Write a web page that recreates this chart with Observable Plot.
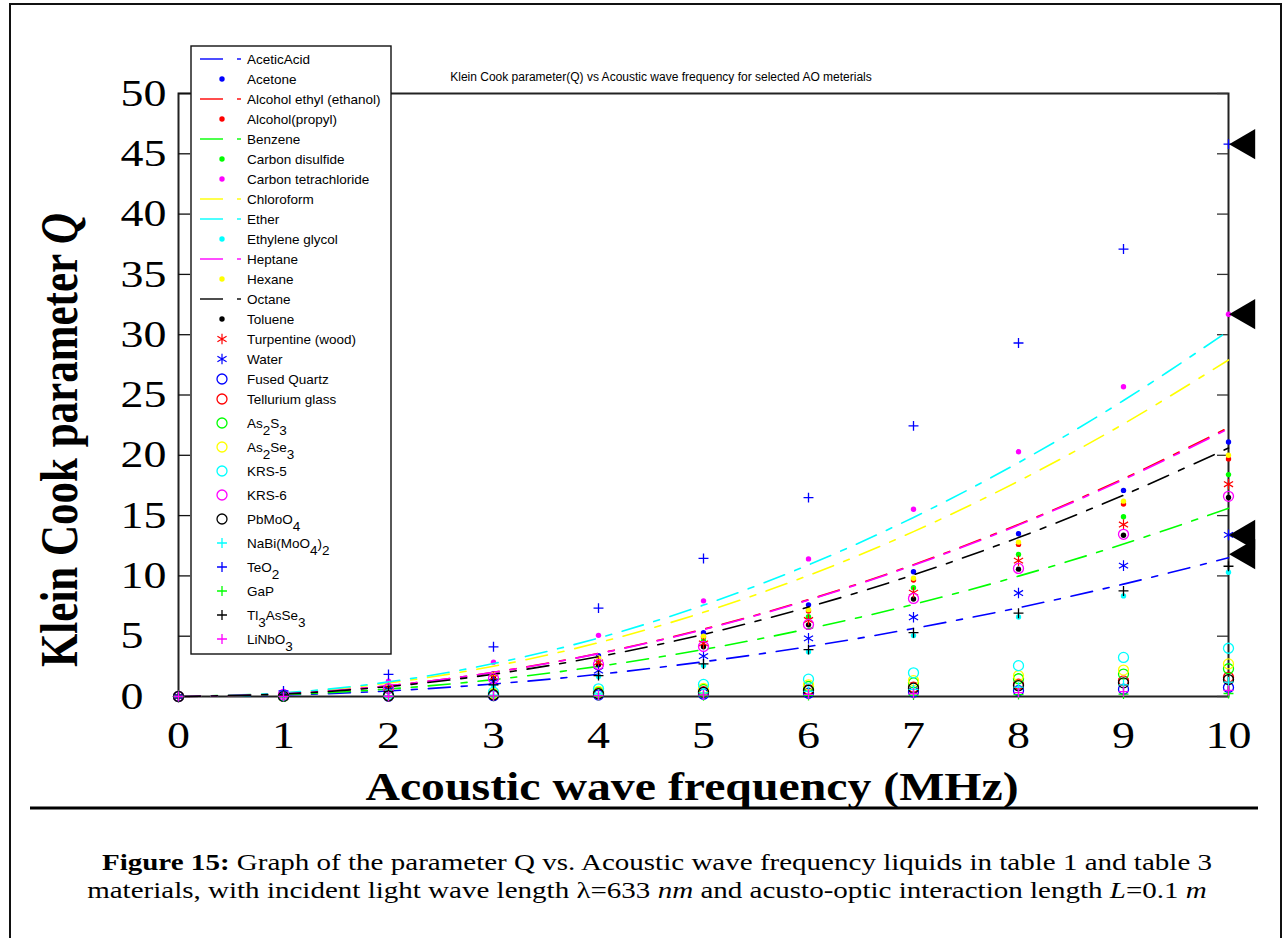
<!DOCTYPE html>
<html><head><meta charset="utf-8">
<script src="https://cdn.jsdelivr.net/npm/d3@7"></script>
<script src="https://cdn.jsdelivr.net/npm/@observablehq/plot@0.6"></script>
<style>
html,body{margin:0;padding:0;background:#fff;}
#wrap{position:relative;width:1284px;height:938px;overflow:hidden;background:#fff;}
#wrap > svg{position:absolute;left:0;top:0;}
</style></head>
<body><div id="wrap"></div>
<script>
// ---------- data ----------
const freq = [0, 1, 2, 3, 4, 5, 6, 7, 8, 9, 10];
const yTicks = [0, 5, 10, 15, 20, 25, 30, 35, 40, 45, 50];

const aceticAcid      = [0, 0.12, 0.46, 1.04, 1.84, 2.88, 4.14, 5.64, 7.36, 9.32, 11.5];
const acetone         = [0, 0.21, 0.84, 1.90, 3.38, 5.28, 7.60, 10.34, 13.50, 17.09, 21.1];
const alcoholEthyl    = [0, 0.22, 0.89, 2.01, 3.57, 5.58, 8.03, 10.93, 14.27, 18.06, 22.3];
const alcoholPropyl   = [0, 0.20, 0.79, 1.77, 3.15, 4.93, 7.09, 9.65, 12.61, 15.96, 19.7];
const benzene         = [0, 0.16, 0.62, 1.40, 2.50, 3.90, 5.62, 7.64, 9.98, 12.64, 15.6];
const carbonDisulfide = [0, 0.18, 0.74, 1.66, 2.94, 4.60, 6.62, 9.02, 11.78, 14.90, 18.4];
const carbonTetra     = [0, 0.32, 1.27, 2.85, 5.07, 7.93, 11.41, 15.53, 20.29, 25.68, 31.7];
const chloroform      = [0, 0.28, 1.12, 2.51, 4.46, 6.98, 10.04, 13.67, 17.86, 22.60, 27.9];
const ether           = [0, 0.30, 1.21, 2.73, 4.85, 7.58, 10.91, 14.85, 19.39, 24.54, 30.3];
const ethyleneGlycol  = [0, 0.10, 0.41, 0.93, 1.65, 2.58, 3.71, 5.05, 6.59, 8.34, 10.3];
const heptane         = [0, 0.22, 0.89, 2.00, 3.55, 5.55, 7.99, 10.88, 14.21, 17.98, 22.2];
const hexane          = [0, 0.20, 0.80, 1.80, 3.20, 5.00, 7.20, 9.80, 12.80, 16.20, 20.0];
const octane          = [0, 0.21, 0.82, 1.85, 3.30, 5.15, 7.42, 10.09, 13.18, 16.69, 20.6];
const toluene         = [0, 0.17, 0.66, 1.49, 2.64, 4.13, 5.94, 8.09, 10.56, 13.37, 16.5];
const turpentine      = [0, 0.18, 0.70, 1.58, 2.82, 4.40, 6.34, 8.62, 11.26, 14.26, 17.6];
const water           = [0, 0.13, 0.54, 1.21, 2.14, 3.35, 4.82, 6.57, 8.58, 10.85, 13.4];
const fusedQuartz     = [0, 0.01, 0.03, 0.07, 0.12, 0.19, 0.27, 0.37, 0.48, 0.61, 0.75];
const telluriumGlass  = [0, 0.02, 0.06, 0.14, 0.26, 0.40, 0.58, 0.78, 1.02, 1.30, 1.6];
const as2s3           = [0, 0.02, 0.09, 0.21, 0.37, 0.58, 0.83, 1.13, 1.47, 1.86, 2.3];
const as2se3          = [0, 0.03, 0.11, 0.24, 0.43, 0.68, 0.97, 1.32, 1.73, 2.19, 2.7];
const krs5            = [0, 0.04, 0.16, 0.36, 0.64, 1.00, 1.44, 1.96, 2.56, 3.24, 4.0];
const krs6            = [0, 0.17, 0.66, 1.49, 2.66, 4.15, 5.98, 8.13, 10.62, 13.45, 16.6];
const pbmoo4          = [0, 0.01, 0.06, 0.13, 0.22, 0.35, 0.50, 0.69, 0.90, 1.13, 1.4];
const nabimoo4        = [0, 0.01, 0.05, 0.11, 0.19, 0.30, 0.43, 0.59, 0.77, 0.97, 1.2];
const teo2            = [0, 0.46, 1.83, 4.12, 7.33, 11.45, 16.49, 22.44, 29.31, 37.10, 45.8];
const gap             = [0, 0.00, 0.01, 0.02, 0.04, 0.06, 0.09, 0.12, 0.16, 0.20, 0.25];
const tl3asse3        = [0, 0.11, 0.43, 0.97, 1.73, 2.70, 3.89, 5.29, 6.91, 8.75, 10.8];
const linbo3          = [0, 0.01, 0.02, 0.05, 0.08, 0.13, 0.18, 0.25, 0.32, 0.41, 0.5];

const arrowQ = [45.8, 31.7, 13.4, 11.8];

const seriesNames = ["AceticAcid","Acetone","Alcohol ethyl (ethanol)","Alcohol(propyl)","Benzene",
  "Carbon disulfide","Carbon tetrachloride","Chloroform","Ether","Ethylene glycol","Heptane","Hexane",
  "Octane","Toluene","Turpentine (wood)","Water","Fused Quartz","Tellurium glass","As_2S_3","As_2Se_3",
  "KRS-5","KRS-6","PbMoO_4","NaBi(MoO_4)_2","TeO_2","GaP","Tl_3AsSe_3","LiNbO_3"];
const seriesValues = [aceticAcid, acetone, alcoholEthyl, alcoholPropyl, benzene, carbonDisulfide,
  carbonTetra, chloroform, ether, ethyleneGlycol, heptane, hexane, octane, toluene, turpentine, water,
  fusedQuartz, telluriumGlass, as2s3, as2se3, krs5, krs6, pbmoo4, nabimoo4, teo2, gap, tl3asse3, linbo3];

// ---------- styles ----------
const B="#0000ff", R="#ff0000", G="#00ff00", Y="#ffff00", C="#00ffff", M="#ff00ff", K="#000000";
const seriesKinds = ["line","dot","line","dot","line","dot","dot","line","line","dot","line","dot",
  "line","dot","star","star","circle","circle","circle","circle","circle","circle","circle",
  "plus","plus","plus","plus","plus"];
const seriesColors = [B,B,R,R,G,G,M,Y,C,C,M,Y,K,K,R,B,B,R,G,Y,C,M,K,C,B,G,K,M];

const DASH = "22,11,6,11";
const sym = {
  dot:    {symbol: "circle",   r: 2.7, filled: true,  sw: 0},
  circle: {symbol: "circle",   r: 5,   filled: false, sw: 1.3},
  plus:   {symbol: "plus",     r: 3.3, filled: false, sw: 1.3},
  star:   {symbol: "asterisk", r: 5,   filled: false, sw: 1.2}
};
const STRETCH = 1.21;
const serif = "Liberation Serif, Times New Roman, serif";
const sans = "Liberation Sans, Arial, sans-serif";

const marks = [Plot.frame({stroke: "#222", strokeWidth: 2})];
// inward ticks on left and right
marks.push(Plot.ruleY(yTicks, {y: d => d, x1: 0, x2: 0.115, stroke: "#111", strokeWidth: 1.3}));
marks.push(Plot.ruleY(yTicks, {y: d => d, x1: 9.895, x2: 10, stroke: "#333", strokeWidth: 1.3}));

seriesNames.forEach((name, i) => {
  const rows = freq.map((f, j) => ({f, q: seriesValues[i][j]}));
  const kind = seriesKinds[i], color = seriesColors[i];
  if (kind === "line") {
    marks.push(Plot.line(rows, {x: "f", y: "q", stroke: color, strokeWidth: 1.6,
      strokeDasharray: DASH, curve: "catmull-rom"}));
  } else {
    const s = sym[kind];
    marks.push(Plot.dot(rows, {x: "f", y: "q", symbol: s.symbol, r: s.r,
      fill: s.filled ? color : "none", stroke: s.filled ? "none" : color, strokeWidth: s.sw}));
  }
});

marks.push(Plot.dot(arrowQ, {x: () => 10, y: d => d, symbol: "triangle", r: 11.2, rotate: -90,
  fill: "#000", stroke: "none", dx: 18}));

marks.push(Plot.axisX({ticks: freq, tickSize: 0, tickPadding: 25, label: null,
  fontSize: 38, fontFamily: serif, fill: "#000"}));
marks.push(Plot.axisY({ticks: yTicks, tickSize: 0, tickPadding: 58, textAnchor: "start", label: null,
  fontSize: 38, fontFamily: serif, fill: "#000"}));

const plot = Plot.plot({
  width: 1284, height: 760,
  marginLeft: 178, marginRight: 56, marginTop: 93, marginBottom: 64,
  x: {domain: [0, 10]},
  y: {domain: [0, 50]},
  style: {fontFamily: serif, fontSize: "38px", background: "transparent", overflow: "visible"},
  marks
});
const wrap = document.getElementById("wrap");
wrap.appendChild(plot);

// stretch tick labels horizontally like the reference (scale about each label's own anchor)
d3.select(plot).selectAll('g[aria-label="x-axis tick label"] text, g[aria-label="y-axis tick label"] text')
  .each(function () {
    const el = d3.select(this);
    const tr = el.attr("transform") || "";
    el.attr("transform", `${tr} scale(${STRETCH},1)`);
  });

// ---------- overlay: borders, titles, legend, caption ----------
const ov = d3.create("svg").attr("width", 1284).attr("height", 938);
const stretch = sel => sel.style("transform-box", "fill-box").style("transform-origin", "50% 50%")
  .style("transform", `scaleX(${STRETCH})`);

// outer border
ov.append("path").attr("d", "M10,945V4H1281V945").attr("fill", "none").attr("stroke", "#111").attr("stroke-width", 2);
// rule under axis title
ov.append("line").attr("x1", 30).attr("x2", 1258).attr("y1", 808).attr("y2", 808).attr("stroke", "#000").attr("stroke-width", 3);

// small title
ov.append("text").attr("x", 661).attr("y", 81).attr("text-anchor", "middle")
  .attr("font-family", sans).attr("font-size", 12).text("Klein Cook parameter(Q) vs Acoustic wave frequency for selected AO meterials");

// x-axis title
stretch(ov.append("text").attr("x", 692).attr("y", 800).attr("text-anchor", "middle")
  .attr("font-family", serif).attr("font-weight", "bold").attr("font-size", 39.5))
  .text("Acoustic wave frequency (MHz)");

// y-axis title
const yt = ov.append("text").attr("transform", `translate(77,440) rotate(-90) scale(1,${STRETCH})`)
  .attr("text-anchor", "middle").attr("font-family", serif).attr("font-weight", "bold").attr("font-size", 43);
yt.append("tspan").text("Klein Cook parameter ");
yt.append("tspan").attr("font-style", "italic").text("Q");

// legend
const lg = ov.append("g");
lg.append("rect").attr("x", 191).attr("y", 46).attr("width", 200).attr("height", 608)
  .attr("fill", "#fff").attr("stroke", "#111").attr("stroke-width", 1.4);
seriesNames.forEach((name, i) => {
  const y = i < 18 ? 59 + 20 * i : 399 + 24 * (i - 17);
  const kind = seriesKinds[i], color = seriesColors[i];
  if (kind === "line") {
    lg.append("line").attr("x1", 200).attr("x2", 223).attr("y1", y).attr("y2", y).attr("stroke", color).attr("stroke-width", 1.4);
    lg.append("line").attr("x1", 237).attr("x2", 241).attr("y1", y).attr("y2", y).attr("stroke", color).attr("stroke-width", 1.4);
  } else {
    const s = sym[kind];
    const typ = {circle: d3.symbolCircle, plus: d3.symbolPlus, asterisk: d3.symbolAsterisk}[s.symbol];
    lg.append("path").attr("transform", `translate(222,${y})`)
      .attr("d", d3.symbol(typ, Math.PI * s.r * s.r)())
      .attr("fill", s.filled ? color : "none").attr("stroke", s.filled ? "none" : color).attr("stroke-width", s.sw);
  }
  const t = lg.append("text").attr("x", 247).attr("y", y + 4.5).attr("font-family", sans).attr("font-size", 13.5).attr("fill", "#000");
  const parts = name.split(/_(\d)/);
  let sub = false;
  parts.forEach((p, k) => {
    if (p === "") return;
    const isSub = k % 2 === 1;
    const ts = t.append("tspan").text(p);
    if (isSub && !sub) { ts.attr("dy", 7); sub = true; }
    else if (!isSub && sub) { ts.attr("dy", -7); sub = false; }
  });
});

// caption
const cap1 = stretch(ov.append("text").attr("x", 657).attr("y", 870).attr("text-anchor", "middle")
  .attr("font-family", serif).attr("font-size", 24));
cap1.append("tspan").attr("font-weight", "bold").text("Figure 15:");
cap1.append("tspan").text(" Graph of the parameter Q vs. Acoustic wave frequency liquids in table 1 and table 3");
const cap2 = stretch(ov.append("text").attr("x", 647).attr("y", 898).attr("text-anchor", "middle")
  .attr("font-family", serif).attr("font-size", 24));
cap2.append("tspan").text("materials, with incident light wave length λ=633 ");
cap2.append("tspan").attr("font-style", "italic").text("nm");
cap2.append("tspan").text(" and acusto-optic interaction length ");
cap2.append("tspan").attr("font-style", "italic").text("L");
cap2.append("tspan").text("=0.1 ");
cap2.append("tspan").attr("font-style", "italic").text("m");

wrap.appendChild(ov.node());
</script>
</body></html>
